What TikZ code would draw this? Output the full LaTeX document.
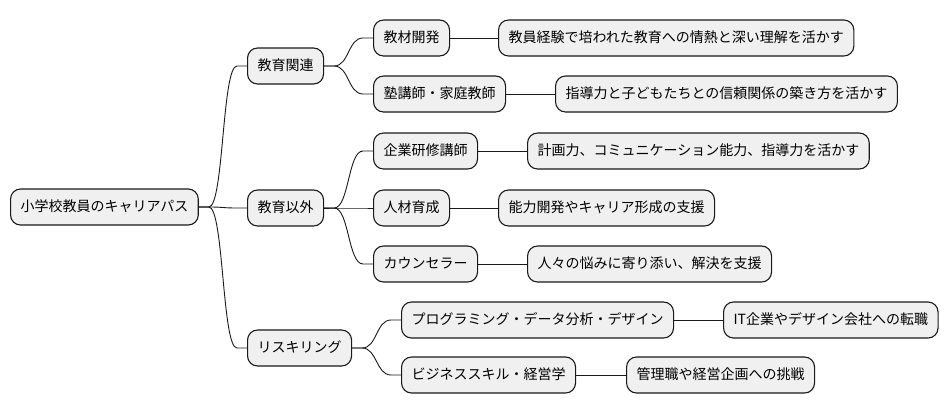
\documentclass[tikz,border=0pt]{standalone}
\usepackage{fontspec}
\setmainfont{Noto Sans CJK JP}
\begin{document}
\begin{tikzpicture}[x=1pt,y=-1pt,
  box/.style={draw=black!90,fill=black!6,line width=1.1pt,rounded corners=10pt,
    anchor=west,font=\fontsize{14pt}{16pt}\selectfont,inner xsep=10pt,inner ysep=0pt,
    minimum height=36pt,text height=11.5pt,text depth=2.5pt},
  link/.style={line width=0.9pt,draw=black!90}]
\useasboundingbox (0,0) rectangle (949,415);
\node[box] (root) at (10,207) {小学校教員のキャリアパス};
\node[box] (edu) at (247,66) {教育関連};
\node[box] (nonedu) at (247,208) {教育以外};
\node[box] (reskill) at (247,348) {リスキリング};
\node[box] (kyozai) at (373,38) {教材開発};
\node[box] (juku) at (373,94) {塾講師・家庭教師};
\node[box] (kigyo) at (373,151) {企業研修講師};
\node[box] (jinzai) at (373,208) {人材育成};
\node[box] (counsel) at (373,264) {カウンセラー};
\node[box] (prog) at (401,320) {プログラミング・データ分析・デザイン};
\node[box] (biz) at (401,375) {ビジネススキル・経営学};
\node[box] (la) at (498,38) {教員経験で培われた教育への情熱と深い理解を活かす};
\node[box] (lb) at (555,94) {指導力と子どもたちとの信頼関係の築き方を活かす};
\node[box] (lc) at (527,151) {計画力、コミュニケーション能力、指導力を活かす};
\node[box] (ld) at (498,208) {能力開発やキャリア形成の支援};
\node[box] (le) at (527,264) {人々の悩みに寄り添い、解決を支援};
\node[box] (lf) at (723,320) {IT企業やデザイン会社への転職};
\node[box] (lg) at (626,375) {管理職や経営企画への挑戦};
\foreach \p/\c in {root/edu,root/nonedu,root/reskill,edu/kyozai,edu/juku,nonedu/kigyo,nonedu/jinzai,nonedu/counsel,reskill/prog,reskill/biz}
  \draw[link] (\p.east) -- ++(10,0) .. controls +(15,0) and +(-15,0) .. ([xshift=-10pt]\c.west) -- (\c.west);
\foreach \p/\c in {kyozai/la,juku/lb,kigyo/lc,jinzai/ld,counsel/le,prog/lf,biz/lg}
  \draw[link] (\p.east) -- (\c.west);
\end{tikzpicture}
\end{document}
